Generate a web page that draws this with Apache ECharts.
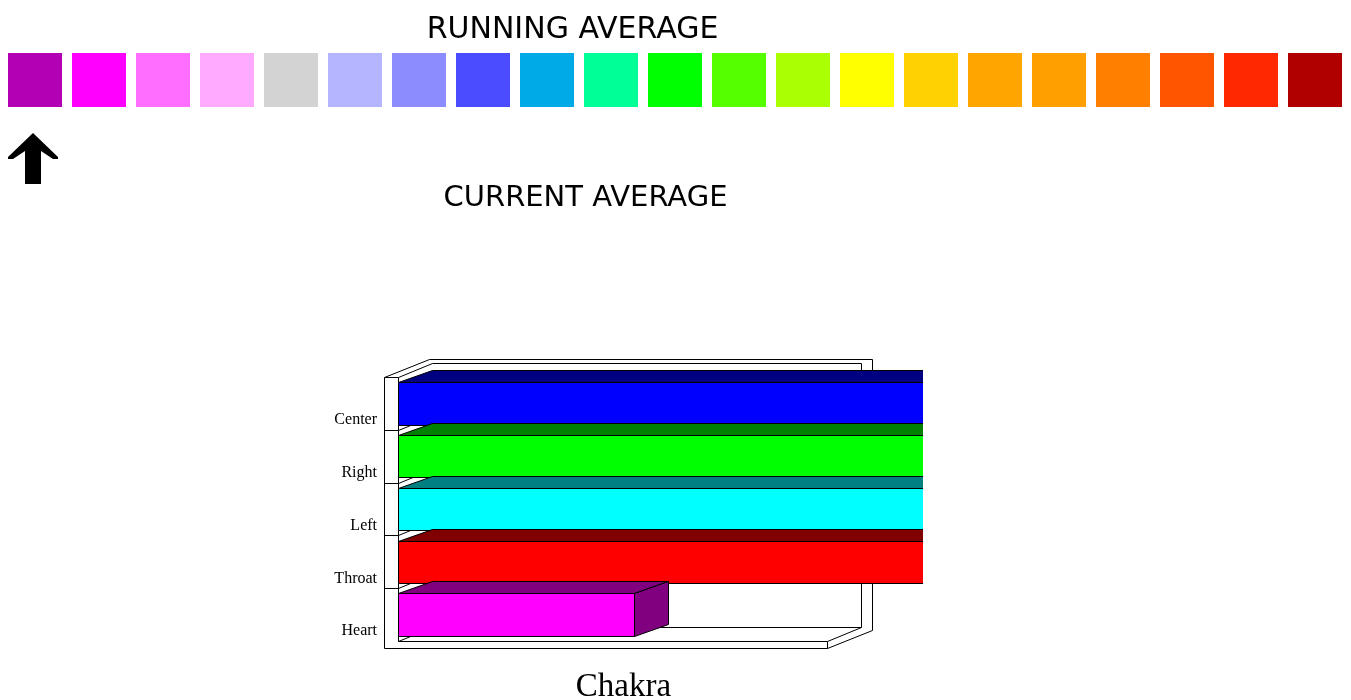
<!DOCTYPE html>
<html><head><meta charset="utf-8">
<script src="https://cdn.jsdelivr.net/npm/echarts@6/dist/echarts.min.js"></script>
<style>html,body{margin:0;padding:0;background:#fff}#c{width:1351px;height:700px}</style>
</head><body><div id="c"></div>
<script>
// ---- data ----
const scaleSlots = ['1','2','3','4','5','6','7','8','9','10','11','12','13','14','15','16','17','18','19','20','21'];
const scaleValues = [1,1,1,1,1,1,1,1,1,1,1,1,1,1,1,1,1,1,1,1,1];
const scaleColors = ['#b400b4','#ff00ff','#ff6eff','#ffaaff','#d3d3d3','#b4b4ff','#8c8cff','#4b4bff','#00aae6','#00ff96','#00ff00','#55ff00','#aaff00','#ffff00','#ffd200','#ffa500','#ffa000','#ff8000','#ff5500','#ff2800','#b00000'];
const currentIndex = [0];
const chakras = ['Heart','Throat','Left','Right','Center'];
const chakraValues = [5.5, 13, 13, 13, 13];
const frontColors = ['#ff00ff','#ff0000','#00ffff','#00ff00','#0000ff'];
const shadeColors = ['#800080','#800000','#008080','#008000','#000080'];
const frameMax = 10;
const axisMax = 12.25;

const px = v => Math.round(v) + 0.5;

function clipPoly(pts, X) {
  const out = [];
  for (let k = 0; k < pts.length; k++) {
    const a = pts[k], b = pts[(k + 1) % pts.length];
    const ain = a[0] <= X, bin = b[0] <= X;
    if (ain) out.push(a);
    if (ain !== bin) {
      const t = (X - a[0]) / (b[0] - a[0]);
      out.push([X, a[1] + t * (b[1] - a[1])]);
    }
  }
  return out;
}
function clipSeg(a, b, X) {
  if (a[0] > X && b[0] > X) return null;
  const f = (p, q) => { const t = (X - p[0]) / (q[0] - p[0]); return [X, p[1] + t * (q[1] - p[1])]; };
  if (a[0] > X) a = f(b, a);
  if (b[0] > X) b = f(a, b);
  return [a, b];
}

function renderFrame(params, api) {
  const n = chakras.length;
  const c0 = api.coord([0, 0]);
  const band = api.size([0, 1])[1];
  const x0 = px(c0[0]), yb = px(c0[1] + band / 2), yt = px(c0[1] + band / 2 - band * n);
  const xf = px(api.coord([frameMax, 0])[0]);
  const W = 14, F = 7, idx = 34, idy = -14, odx = 45, ody = -18;
  const st = {fill: '#fff', stroke: '#000', lineWidth: 1};
  const ln = {fill: null, stroke: '#000', lineWidth: 1};
  const children = [
    {type: 'polygon', shape: {points: [[x0 - W, yb + F], [x0 - W, yt], [x0 - W + odx, yt + ody], [xf + odx, yt + ody], [xf + odx, yb + F + ody], [xf, yb + F]]}, style: st},
    {type: 'polygon', shape: {points: [[x0, yb], [x0, yt], [x0 + idx, yt + idy], [xf + idx, yt + idy], [xf + idx, yb + idy], [xf, yb]]}, style: st},
    {type: 'polyline', shape: {points: [[x0, yb], [x0 + idx, yb + idy], [xf + idx, yb + idy]]}, style: ln},
    {type: 'line', shape: {x1: xf, y1: yb, x2: xf, y2: yb + F}, style: ln},
    {type: 'line', shape: {x1: x0 - W, y1: yt, x2: x0, y2: yt}, style: ln}
  ];
  for (let i = 1; i < n; i++) {
    const y = px(c0[1] + band / 2 - i * band);
    children.push({type: 'polyline', shape: {points: [[x0 - W, y], [x0, y], [x0 + idx, y + idy]]}, style: ln});
  }
  return {type: 'group', children};
}

function renderBar(params, api) {
  const v = api.value(0), i = api.value(1);
  const c = api.coord([0, i]), e = api.coord([v, i]);
  const band = api.size([0, 1])[1], h = band * 0.8;
  const xa = px(c[0]), xb = px(e[0]), yT = px(c[1] - h / 2), yB = px(c[1] + h / 2);
  const X = api.coord([axisMax, i])[0];
  const dx = 34, dy = -12;
  const faces = [
    {pts: [[xa, yT], [xb, yT], [xb, yB], [xa, yB]], color: frontColors[i]},
    {pts: [[xa, yT], [xb, yT], [xb + dx, yT + dy], [xa + dx, yT + dy]], color: shadeColors[i]},
    {pts: [[xb, yT], [xb + dx, yT + dy], [xb + dx, yB + dy], [xb, yB]], color: shadeColors[i]}
  ];
  const children = [];
  faces.forEach(f => {
    const cp = clipPoly(f.pts, X);
    if (cp.length < 3) return;
    children.push({type: 'polygon', shape: {points: cp}, style: {fill: f.color, stroke: null}});
    for (let k = 0; k < f.pts.length; k++) {
      const s = clipSeg(f.pts[k], f.pts[(k + 1) % f.pts.length], X);
      if (!s) continue;
      children.push({type: 'line', shape: {x1: s[0][0], y1: s[0][1], x2: s[1][0], y2: s[1][1]}, style: {stroke: '#000', lineWidth: 1}});
    }
  });
  return {type: 'group', children};
}

const chart = echarts.init(document.getElementById('c'));
chart.setOption({
  animation: false,
  backgroundColor: '#fff',
  title: [
    {text: 'RUNNING AVERAGE', left: 572.5, top: 30.5, textAlign: 'center', textVerticalAlign: 'middle', padding: 0,
     textStyle: {fontFamily: 'DejaVu Sans', fontSize: 30, fontWeight: 'normal', color: '#000', lineHeight: 30}},
    {text: 'CURRENT AVERAGE', left: 585.5, top: 198, textAlign: 'center', textVerticalAlign: 'middle', padding: 0,
     textStyle: {fontFamily: 'DejaVu Sans', fontSize: 29, fontWeight: 'normal', color: '#000', lineHeight: 29}},
    {text: 'Chakra', left: 623.5, top: 687, textAlign: 'center', textVerticalAlign: 'middle', padding: 0,
     textStyle: {fontFamily: 'Liberation Serif', fontSize: 33, fontWeight: 'normal', color: '#000', lineHeight: 33}}
  ],
  grid: [
    {left: 3, top: 53, width: 1344, height: 54},
    {left: 3, top: 133, width: 1344, height: 51},
    {left: 398, top: 377, width: 525, height: 264}
  ],
  xAxis: [
    {type: 'category', gridIndex: 0, data: scaleSlots, show: false},
    {type: 'category', gridIndex: 1, data: scaleSlots, show: false},
    {type: 'value', gridIndex: 2, min: 0, max: axisMax, show: false}
  ],
  yAxis: [
    {type: 'value', gridIndex: 0, min: 0, max: 1, show: false},
    {type: 'value', gridIndex: 1, min: 0, max: 1, show: false},
    {type: 'category', gridIndex: 2, data: chakras,
     axisLine: {show: false}, axisTick: {show: false}, splitLine: {show: false},
     axisLabel: {margin: 21, fontFamily: 'Liberation Serif', fontSize: 16, color: '#000', verticalAlign: 'top', lineHeight: 33}}
  ],
  series: [
    {type: 'bar', xAxisIndex: 0, yAxisIndex: 0, barWidth: 54, silent: true,
     data: scaleValues.map((v, i) => ({value: v, itemStyle: {color: scaleColors[i]}}))},
    {type: 'scatter', xAxisIndex: 1, yAxisIndex: 1, silent: true,
     symbol: 'path://M25 0 L50 24 L50 26 L45 26 L33 18 L33 51 L17 51 L17 18 L5 26 L0 26 L0 24 Z',
     symbolSize: [50, 51], symbolOffset: [-2, 0], itemStyle: {color: '#000', opacity: 1},
     data: currentIndex.map(k => [k, 0.5])},
    {type: 'custom', xAxisIndex: 2, yAxisIndex: 2, silent: true, clip: false, z: 1,
     renderItem: renderFrame, data: [[0, 0]]},
    {type: 'custom', xAxisIndex: 2, yAxisIndex: 2, silent: true, clip: false, z: 2,
     renderItem: renderBar, encode: {x: 0, y: 1},
     data: chakraValues.map((v, i) => [v, i]).reverse()}
  ]
});
</script></body></html>
